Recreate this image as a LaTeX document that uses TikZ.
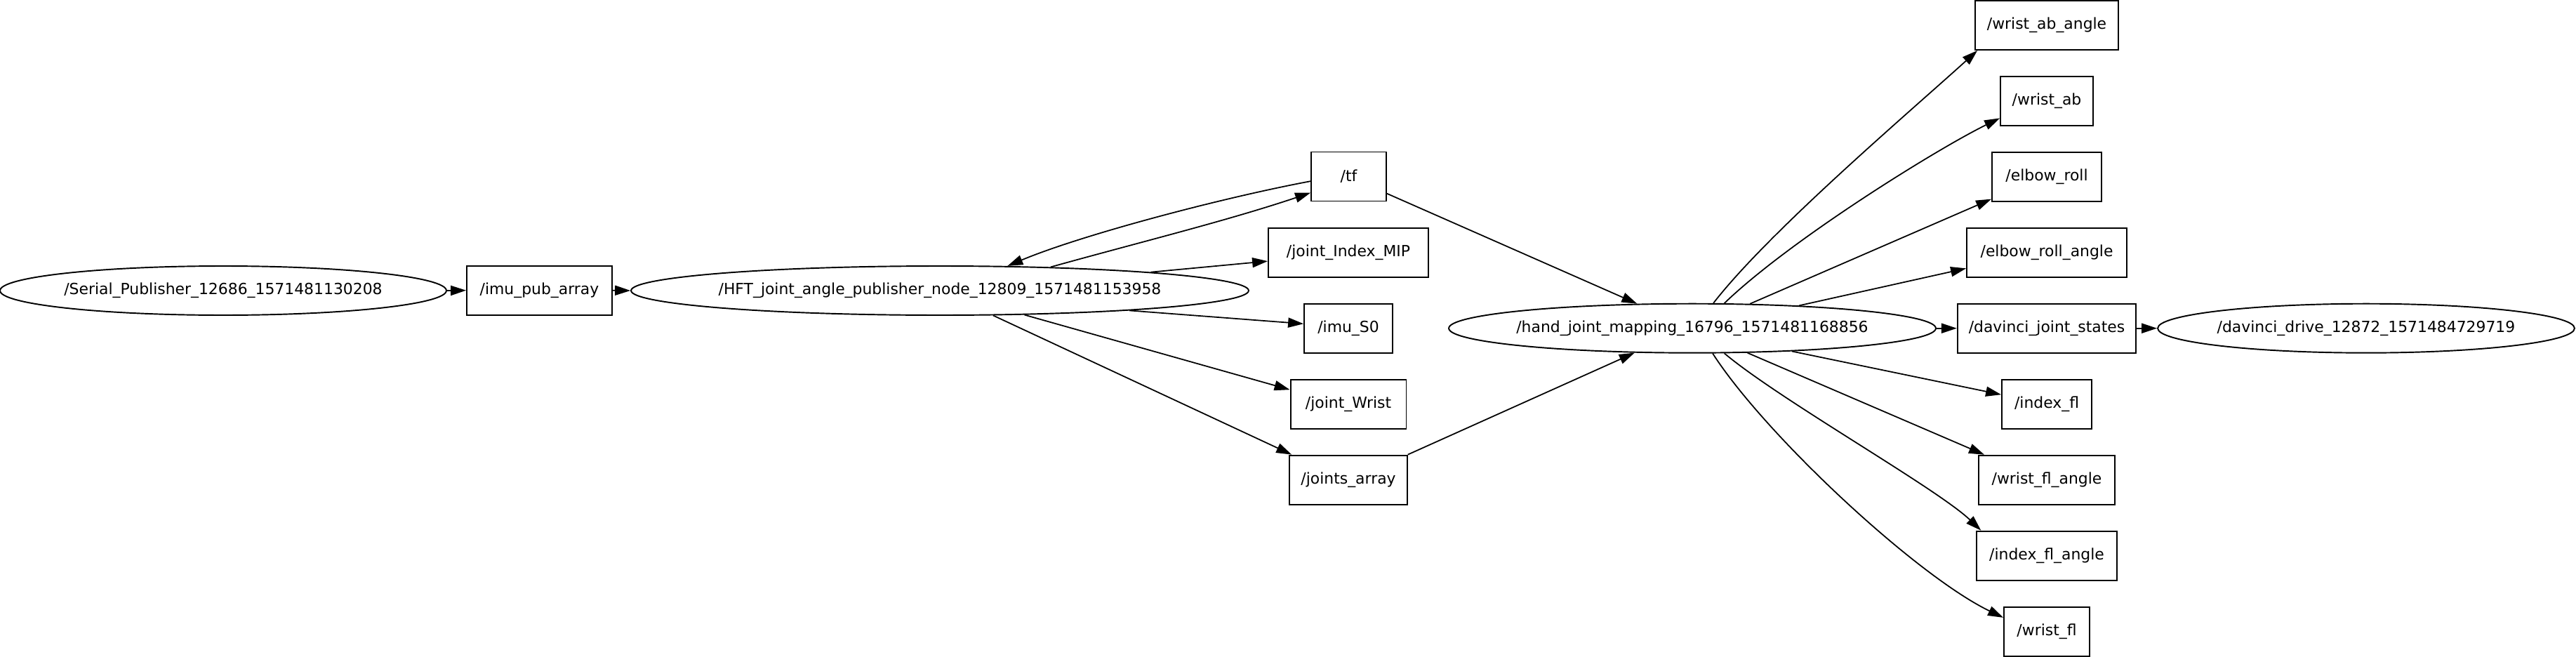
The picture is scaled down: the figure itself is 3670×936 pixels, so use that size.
\documentclass[tikz,border=0pt]{standalone}
\usepackage{fontspec}
\setmainfont{DejaVu Sans}
\usetikzlibrary{arrows.meta,shapes.geometric}
\begin{document}
\begin{tikzpicture}[x=0.02cm,y=-0.02cm,
  lbl/.style={font=\fontsize{12.46pt}{15pt}\selectfont},
  topic/.style={lbl, draw, rectangle, line width=1.1pt, minimum height=1.4cm, inner sep=0pt},
  rosnode/.style={lbl, draw, ellipse, line width=1.1pt, minimum height=1.4cm, inner sep=0pt},
  edge/.style={line width=1pt, -{Triangle[length=12.5pt,width=8pt]}}
]
\useasboundingbox (0,0) rectangle (3670,936);
% nodes
\node[rosnode, minimum width=12.72cm] (serial) at (318,414) {\makebox[0pt]{/Serial\_Publisher\_12686\_1571481130208}};
\node[topic, minimum width=4.14cm] (imupub) at (768.5,413.7) {/imu\_pub\_array};
\node[rosnode, minimum width=17.6cm] (hft) at (1339,414) {\makebox[0pt]{/HFT\_joint\_angle\_publisher\_node\_12809\_1571481153958}};
\node[topic, minimum width=2.14cm] (tf) at (1921.5,251.5) {/tf};
\node[topic, minimum width=4.56cm] (jim) at (1921,360) {/joint\_Index\_MIP};
\node[topic, minimum width=2.52cm] (imus0) at (1921,468) {/imu\_S0};
\node[topic, minimum width=3.30cm] (jw) at (1921,576) {/joint\_Wrist};
\node[topic, minimum width=3.36cm] (ja) at (1921,683.6) {/joints\_array};
\node[rosnode, minimum width=13.88cm] (hand) at (2411,467.7) {\makebox[0pt]{/hand\_joint\_mapping\_16796\_1571481168856}};
\node[topic, minimum width=4.07cm] (waa) at (2916,36) {/wrist\_ab\_angle};
\node[topic, minimum width=2.64cm] (wab) at (2916,144) {/wrist\_ab};
\node[topic, minimum width=3.12cm] (er) at (2916,251.7) {/elbow\_roll};
\node[topic, minimum width=4.56cm] (era) at (2916,360) {/elbow\_roll\_angle};
\node[topic, minimum width=5.09cm] (djs) at (2916,467.7) {/davinci\_joint\_states};
\node[topic, minimum width=2.56cm] (ifl) at (2916,576) {/index\_fl};
\node[topic, minimum width=3.89cm] (wfa) at (2916,683.7) {/wrist\_fl\_angle};
\node[topic, minimum width=3.99cm] (ifa) at (2916,791.7) {/index\_fl\_angle};
\node[topic, minimum width=2.44cm] (wfl) at (2916,900) {/wrist\_fl};
\node[rosnode, minimum width=11.88cm] (dd) at (3371,467.7) {\makebox[0pt]{/davinci\_drive\_12872\_1571484729719}};
% edges
\draw[edge] (serial.east) -- (imupub.west);
\draw[edge] (imupub.east) -- (hft.west);
\draw[edge] (tf.187) .. controls (1740,282) and (1540,335) .. (hft.20);
\draw[edge] (hft.12) .. controls (1624,345) and (1748,314.6) .. (tf.203);
\draw[edge] (hft.5.6) -- (jim.186);
\draw[edge] (hft.354.5) -- (imus0.174.5);
\draw[edge] (hft.344.5) -- (jw.166);
\draw[edge] (hft.335.5) -- (ja.156);
\draw[edge] (tf.336.6) -- (hand.156.7);
\draw[edge] (ja.23.5) -- (hand.203);
\draw[edge] (hand.50.4) .. controls (2520,330) and (2720,160) .. (waa.200);
\draw[edge] (hand.38) .. controls (2550,342) and (2760,212) .. (wab.200);
\draw[edge] (hand.23.5) -- (er.202.4);
\draw[edge] (hand.12.3) -- (era.191.4);
\draw[edge] (hand.east) -- (djs.west);
\draw[edge] (djs.east) -- (dd.west);
\draw[edge] (hand.347.9) -- (ifl.168.6);
\draw[edge] (hand.336.5) -- (wfa.158);
\draw[edge] (hand.322) .. controls (2536,570) and (2760,696) .. (ifa.159.4);
\draw[edge] (hand.309.6) .. controls (2515,620) and (2730,820) .. (wfl.162);
\end{tikzpicture}
\end{document}
